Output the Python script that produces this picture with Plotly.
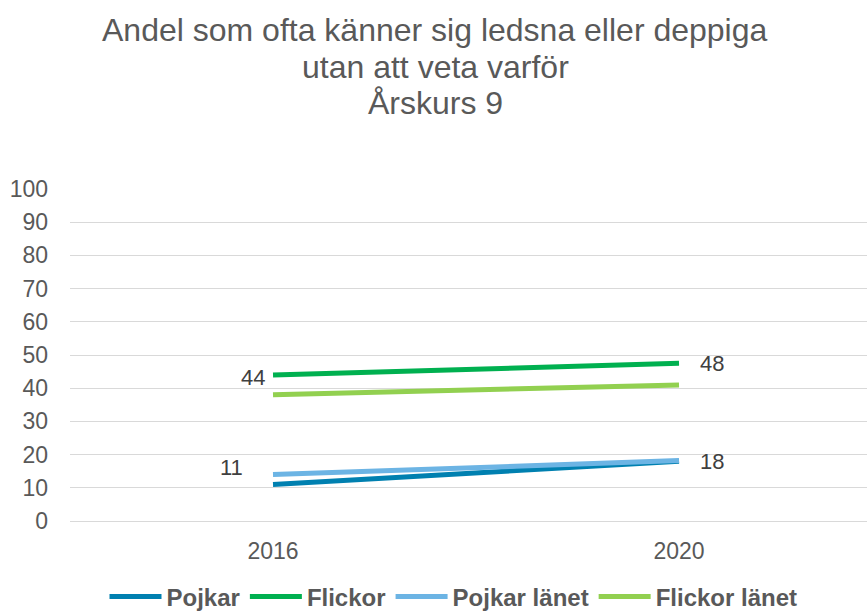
import plotly.graph_objects as go

years = ["2016", "2020"]
pojkar = [11, 18]
flickor = [44, 47.5]
pojkar_lanet = [14, 18.2]
flickor_lanet = [38, 41]
series_names = ["Pojkar", "Flickor", "Pojkar länet", "Flickor länet"]
series_values = [pojkar, flickor, pojkar_lanet, flickor_lanet]
colors = ["#0080B0", "#00B050", "#6CB4E4", "#92D050"]
title_lines = ["Andel som ofta känner sig ledsna eller deppiga", "utan att veta varför", "Årskurs 9"]

grey = "#595959"
FONT = "Liberation Sans, Arial"
fig = go.Figure()
for name, vals, col in zip(series_names, series_values, colors):
    fig.add_trace(go.Scatter(x=[0, 1], y=vals, mode="lines", name=name,
                             line=dict(color=col, width=5)))

# data labels (Pojkar and Flickor)
labels = [
    (0, pojkar[0], f"{pojkar[0]:.0f}", "right", -28, 17),
    (1, pojkar[1], f"{pojkar[1]:.0f}", "left", 19, 0),
    (0, flickor[0], f"{flickor[0]:.0f}", "right", -6, -3),
    (1, flickor[1], "48", "left", 19, 0),
]
for xi, yv, txt, anc, xs, ys in labels:
    fig.add_annotation(x=xi, y=yv, xref="x", yref="y", text=txt, showarrow=False, xanchor=anc,
                       yanchor="middle", xshift=xs, yshift=ys,
                       font=dict(size=22, color="#404040", family=FONT))

# title lines as annotations (paper coords relative to plot area 189..521 px)
title_y_px = [30, 67, 103]
for txt, py in zip(title_lines, title_y_px):
    fig.add_annotation(x=(435 - 70) / 797, y=(521 - py) / 332, xref="paper", yref="paper",
                       text=txt, showarrow=False, xanchor="center", yanchor="middle",
                       font=dict(size=32, color=grey, family=FONT))

fig.update_layout(
    width=867, height=612,
    paper_bgcolor="white", plot_bgcolor="white",
    margin=dict(l=70, r=0, t=189, b=91, autoexpand=False),
    font=dict(family=FONT, color=grey),
    xaxis=dict(range=[-0.5, 1.463], showgrid=False, showline=False, zeroline=False,
               tickmode="array", tickvals=[0, 1], ticktext=years,
               ticks="", tickfont=dict(size=23, color=grey), ticklabelstandoff=14),
    yaxis=dict(range=[0, 100], dtick=10, showgrid=True, gridcolor="#D9D9D9", gridwidth=1,
               zeroline=True, zerolinecolor="#D9D9D9", zerolinewidth=1,
               tickfont=dict(size=23, color=grey), ticklabelstandoff=21),
    legend=dict(orientation="h", x=(453.5 - 70) / 797, xanchor="center", yref="container",
                y=(612 - 597) / 612, yanchor="middle",
                font=dict(size=24, color=grey, family=FONT, weight="bold"),
                itemwidth=52, traceorder="normal", bgcolor="rgba(0,0,0,0)"),
    showlegend=True,
)
fig.write_html("out.html", config={"displayModeBar": False},
               post_script="document.body.style.margin='0';")
